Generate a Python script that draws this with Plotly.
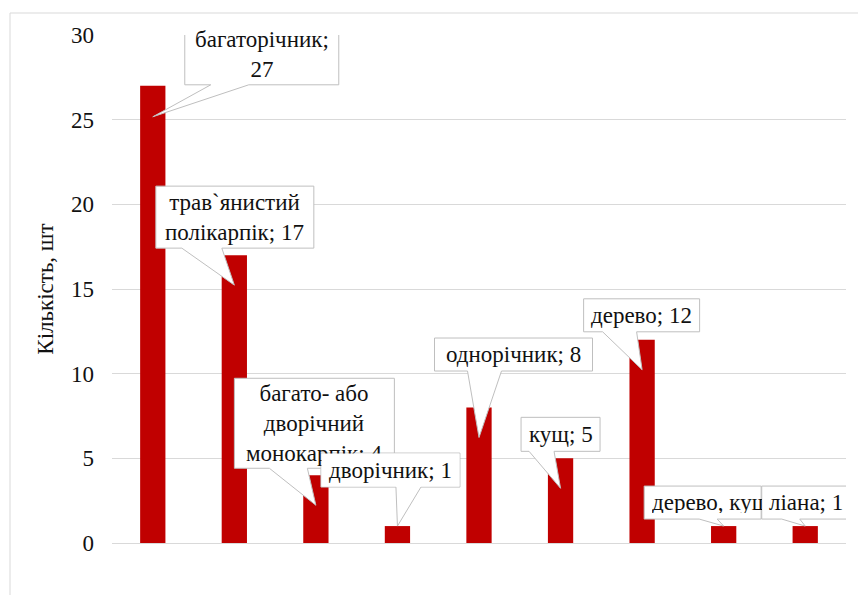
import plotly.graph_objects as go

# Life forms of the species and their counts
categories = [
    "багаторічник",
    "трав`янистий полікарпік",
    "багато- або дворічний монокарпік",
    "дворічник",
    "однорічник",
    "кущ",
    "дерево",
    "дерево, кущ",
    "ліана",
]
values = [27, 17, 4, 1, 8, 5, 12, 1, 1]

# How each callout label is broken into lines
label_names = [
    "багаторічник",
    "трав`янистий<br>полікарпік",
    "багато- або<br>дворічний<br>монокарпік",
    "дворічник",
    "однорічник",
    "кущ",
    "дерево",
    "дерево, кущ",
    "ліана",
]
label_seps = [";<br>", "; ", "; ", "; ", "; ", "; ", "; ", "; ", "; "]

# Callout geometry in pixels relative to the top-centre of each bar:
# box (left, right, top, bottom; y measured upward), wedge base (x0, x1), tip (x, y)
callout_box = [
    (32, 186, 62, 1),
    (-78.5, 79.5, 69, 7),
    (-81.5, 78.5, 97, 7),
    (-76.5, 62.5, 73, 39),
    (-44.5, 113.5, 69.5, 36.5),
    (-39.5, 39.5, 41, 7),
    (-58.5, 57.5, 41, 8),
    (-79.5, 37.5, 40, 7),
    (-43.5, 45.5, 40, 7),
]
callout_base = [
    (58, 96), (-52.5, -12.5), (-46.5, -8.5), (-1.5, 23.5), (-11.5, 22.5),
    (-31.5, -6.5), (-39.5, -5.5), (-24.5, -6.5), (-23.5, -5.5),
]
callout_tip = [(0, -31), (0, -30), (0, -30), (0, 0), (0, -30), (0, -30), (0, -30), (0, 0), (0, 0)]

FONT = "'Times New Roman', 'Liberation Serif', 'DejaVu Serif', serif"
FS = 23
GRID = "#d9d9d9"
EDGE = "#bfbfbf"
TEXT = "#111111"

W, H = 858, 595
ML, MR, MT, MB = 112, 12, 35, 52

fig = go.Figure()
fig.add_trace(go.Bar(
    x=list(range(len(categories))),
    y=values,
    marker=dict(color="#C00000", line=dict(width=0)),
    hovertext=categories,
    width=0.31,
))

shapes = []
annotations = []
for i, (v, box, base, tip) in enumerate(zip(values, callout_box, callout_base, callout_tip)):
    L, R, T, B = box
    b0, b1 = base
    tx, ty = tip
    # outline: box with an open base joined to a wedge pointing at the bar
    path = (f"M {b0},{B} L {L},{B} L {L},{T} L {R},{T} L {R},{B} "
            f"L {b1},{B} L {tx},{ty} Z")
    shapes.append(dict(
        type="path", xref="x", yref="y", xsizemode="pixel", ysizemode="pixel",
        xanchor=i, yanchor=v, path=path,
        fillcolor="white", line=dict(color=EDGE, width=1), layer="above",
    ))
    text = f"{label_names[i]}{label_seps[i]}{v}"
    ann = dict(
        x=i, y=v, xref="x", yref="y", text=text, showarrow=False,
        font=dict(family=FONT, size=FS, color=TEXT),
        xanchor="center", yanchor="middle",
        xshift=(L + R) / 2, yshift=(T + B) / 2,
        borderpad=0,
    )
    if i == 3:
        # this box sits over the previous label, so it gets an opaque interior
        ann.update(bgcolor="white", width=R - L - 2, height=T - B - 2)
    if i == 7:
        # text is cut at the edge of the neighbouring box
        pad = 6
        ann.update(xanchor="left", align="left", borderpad=pad,
                   width=R - L - pad - 1, height=T - B - 2 * pad,
                   xshift=L + 1)
    annotations.append(ann)

# outer chart frame
def px_to_paper_x(px):
    return (px - ML) / (W - ML - MR)

def px_to_paper_y(py):
    return (H - MB - py) / (H - MT - MB)

shapes.insert(0, dict(
    type="rect", xref="paper", yref="paper",
    x0=px_to_paper_x(10), x1=px_to_paper_x(W + 20),
    y0=px_to_paper_y(H + 20), y1=px_to_paper_y(13),
    line=dict(color=GRID, width=1), fillcolor="rgba(0,0,0,0)", layer="below",
))

fig.update_layout(
    width=W, height=H,
    margin=dict(l=ML, r=MR, t=MT, b=MB),
    paper_bgcolor="white", plot_bgcolor="white",
    showlegend=False,
    shapes=shapes,
    annotations=annotations,
    font=dict(family=FONT, size=FS, color=TEXT),
    xaxis=dict(
        range=[-0.5, len(categories) - 0.5],
        showticklabels=False, showgrid=False, zeroline=False, showline=False,
        ticks="",
    ),
    yaxis=dict(
        range=[0, 30], dtick=5, tick0=0,
        showgrid=True, gridcolor=GRID, gridwidth=1,
        zeroline=True, zerolinecolor=GRID, zerolinewidth=1,
        showline=False, ticks="",
        ticklabelstandoff=17,
        tickfont=dict(family=FONT, size=FS, color=TEXT),
        title=dict(text="Кількість, шт", standoff=10,
                   font=dict(family=FONT, size=FS, color=TEXT)),
    ),
)

fig.write_html("out.html")
